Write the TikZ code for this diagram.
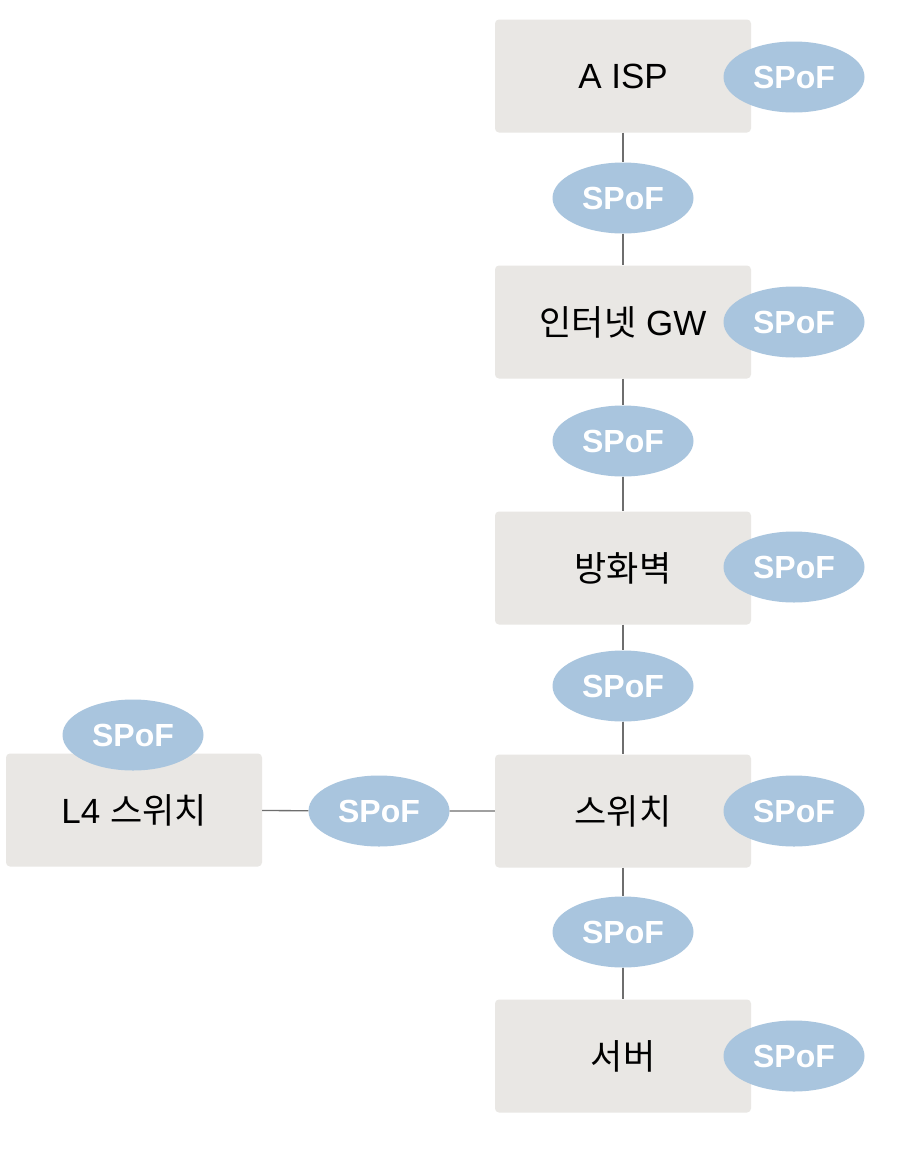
\documentclass[tikz,border=0pt]{standalone}
\usepackage{fontspec}
\setmainfont{Liberation Sans}
\newfontfamily\kr{Noto Sans CJK KR}
\usetikzlibrary{shapes.geometric}
\definecolor{boxfill}{HTML}{E9E7E4}
\definecolor{spoffill}{HTML}{A9C5DE}
\definecolor{linecol}{HTML}{6E6E6E}
\tikzset{
  devbox/.style={fill=boxfill, rounded corners=4pt, minimum width=256pt, minimum height=113pt, inner sep=0pt, font=\fontsize{35}{38}\selectfont, text=black},
  spof/.style={ellipse, fill=spoffill, minimum width=141pt, minimum height=71pt, inner sep=0pt, text=white, font=\fontsize{32}{34}\selectfont\bfseries},
  wire/.style={draw=linecol, line width=1.3pt}
}
\begin{document}
\begin{tikzpicture}[x=1pt,y=-1pt]
\useasboundingbox (0,0) rectangle (912,1154);
\fill[white] (0,0) rectangle (912,1154);
% boxes
\node[devbox] (isp) at (623,76) {A ISP};
\node[devbox] (gw) at (623,322) {{\kr 인터넷} GW};
\node[devbox] (fw) at (623,568) {\kr 방화벽};
\node[devbox] (sw) at (623,811) {\kr 스위치};
\node[devbox] (srv) at (623,1056) {\kr 서버};
\node[devbox] (l4) at (134,810) {L4 {\kr 스위치}};
% link ellipses
\node[spof] (e1) at (623,198) {SPoF};
\node[spof] (e2) at (623,441) {SPoF};
\node[spof] (e3) at (623,686) {SPoF};
\node[spof] (e4) at (623,932) {SPoF};
\node[spof] (e5) at (379,811) {SPoF};
% connectors
\draw[wire] (isp) -- (e1) -- (gw);
\draw[wire] (gw) -- (e2) -- (fw);
\draw[wire] (fw) -- (e3) -- (sw);
\draw[wire] (sw) -- (e4) -- (srv);
\draw[wire] (l4) -- (e5) -- (sw);
% device ellipses
\node[spof] (s1) at (794,77) {SPoF};
\node[spof] (s2) at (794,322) {SPoF};
\node[spof] (s3) at (794,567) {SPoF};
\node[spof] (s4) at (794,811) {SPoF};
\node[spof] (s5) at (794,1056) {SPoF};
\node[spof] (s6) at (133,735) {SPoF};
\end{tikzpicture}
\end{document}
